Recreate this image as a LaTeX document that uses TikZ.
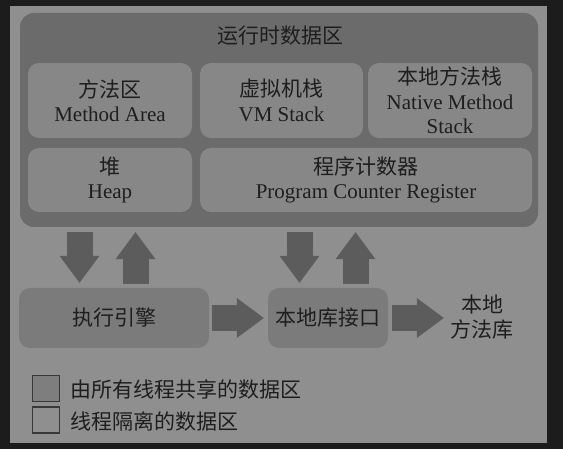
\documentclass[tikz,border=0pt]{standalone}
\usepackage{fontspec}
\setmainfont{Liberation Serif}
\newfontfamily\cjk{Noto Sans CJK SC}
\usetikzlibrary{arrows.meta}

\definecolor{bgdark}{HTML}{1C1C1C}
\definecolor{panel}{HTML}{8F8F8F}
\definecolor{rtdark}{HTML}{6B6B6B}
\definecolor{inner}{HTML}{878787}
\definecolor{engine}{HTML}{7B7B7B}
\definecolor{arrowc}{HTML}{5C5C5C}
\definecolor{txt}{HTML}{1E1E1E}
\definecolor{legendline}{HTML}{383838}
\definecolor{legendfill}{HTML}{7E7E7E}

\tikzset{
  base/.style={inner sep=0pt, align=center, text=txt,
    font=\fontsize{21}{24.5}\selectfont},
  cjkbase/.style={base, font=\cjk\fontsize{21}{24.5}\selectfont},
  area/.style={base, rounded corners=11pt, fill=inner},
  enginebox/.style={cjkbase, rounded corners=11pt, fill=engine},
  barrow/.style={draw=arrowc, line width=26pt,
    -{Triangle[width=40pt,length=27pt,line width=0pt]}},
  legendbox/.style={draw=legendline, line width=1.1pt,
    minimum width=27pt, minimum height=26pt, inner sep=0pt},
  legendtext/.style={cjkbase, anchor=west},
}

\begin{document}
\begin{tikzpicture}[x=1pt,y=-1pt]
  % page background and light panel
  \fill[bgdark] (0,0) rectangle (563,449);
  \useasboundingbox (0,0) rectangle (563,449);
  \fill[panel] (10,6) rectangle (547,443);

  % runtime data area
  \node[base, fill=rtdark, rounded corners=14pt,
        minimum width=518pt, minimum height=214pt] (rt) at (279,120) {};
  \node[cjkbase] (rttitle) at (280,36) {运行时数据区};

  \node[area, minimum width=164pt, minimum height=75pt] (method) at (110,100.5)
    {{\cjk 方法区}\\Method Area};
  \node[area, minimum width=163pt, minimum height=75pt] (vm) at (281.5,100.5)
    {{\cjk 虚拟机栈}\\VM Stack};
  \node[area, minimum width=164pt, minimum height=75pt] (nms) at (450,100.5)
    {{\cjk 本地方法栈}\\Native Method\\Stack};
  \node[area, minimum width=164pt, minimum height=64pt] (heap) at (110,180)
    {{\cjk 堆}\\Heap};
  \node[area, minimum width=332pt, minimum height=64pt] (pc) at (366,180)
    {{\cjk 程序计数器}\\Program Counter Register};

  % execution engine, native interface, native libraries
  \node[enginebox, minimum width=190pt, minimum height=60pt] (exec) at (114,318)
    {执行引擎};
  \node[enginebox, minimum width=120pt, minimum height=60pt] (jni) at (328,318)
    {本地库接口};
  \node[cjkbase] (lib) at (482,317) {本地\\方法库};

  % x positions of the vertical block arrows
  \coordinate (ax1) at (79.5,0);
  \coordinate (ax2) at (135.5,0);
  \coordinate (ax3) at (299.5,0);
  \coordinate (ax4) at (355.5,0);

  \draw[barrow, shorten <=5pt, shorten >=5pt] (rt.south -| ax1) -- (exec.north -| ax1);
  \draw[barrow, shorten <=4pt, shorten >=5pt] (exec.north -| ax2) -- (rt.south -| ax2);
  \draw[barrow, shorten <=5pt, shorten >=5pt] (rt.south -| ax3) -- (jni.north -| ax3);
  \draw[barrow, shorten <=4pt, shorten >=5pt] (jni.north -| ax4) -- (rt.south -| ax4);

  \draw[barrow, shorten <=3pt, shorten >=4pt] (exec.east) -- (jni.west);
  \draw[barrow, shorten <=4pt, shorten >=6.5pt] (jni.east) -- (lib.west |- jni.east);

  % legend
  \node[legendbox, fill=legendfill] (shared) at (46,388.5) {};
  \node[legendbox, fill=panel] (private) at (46,420) {};
  \node[legendtext] (sharedtext) at (70,389) {由所有线程共享的数据区};
  \node[legendtext] (privatetext) at (70,421) {线程隔离的数据区};
\end{tikzpicture}
\end{document}
